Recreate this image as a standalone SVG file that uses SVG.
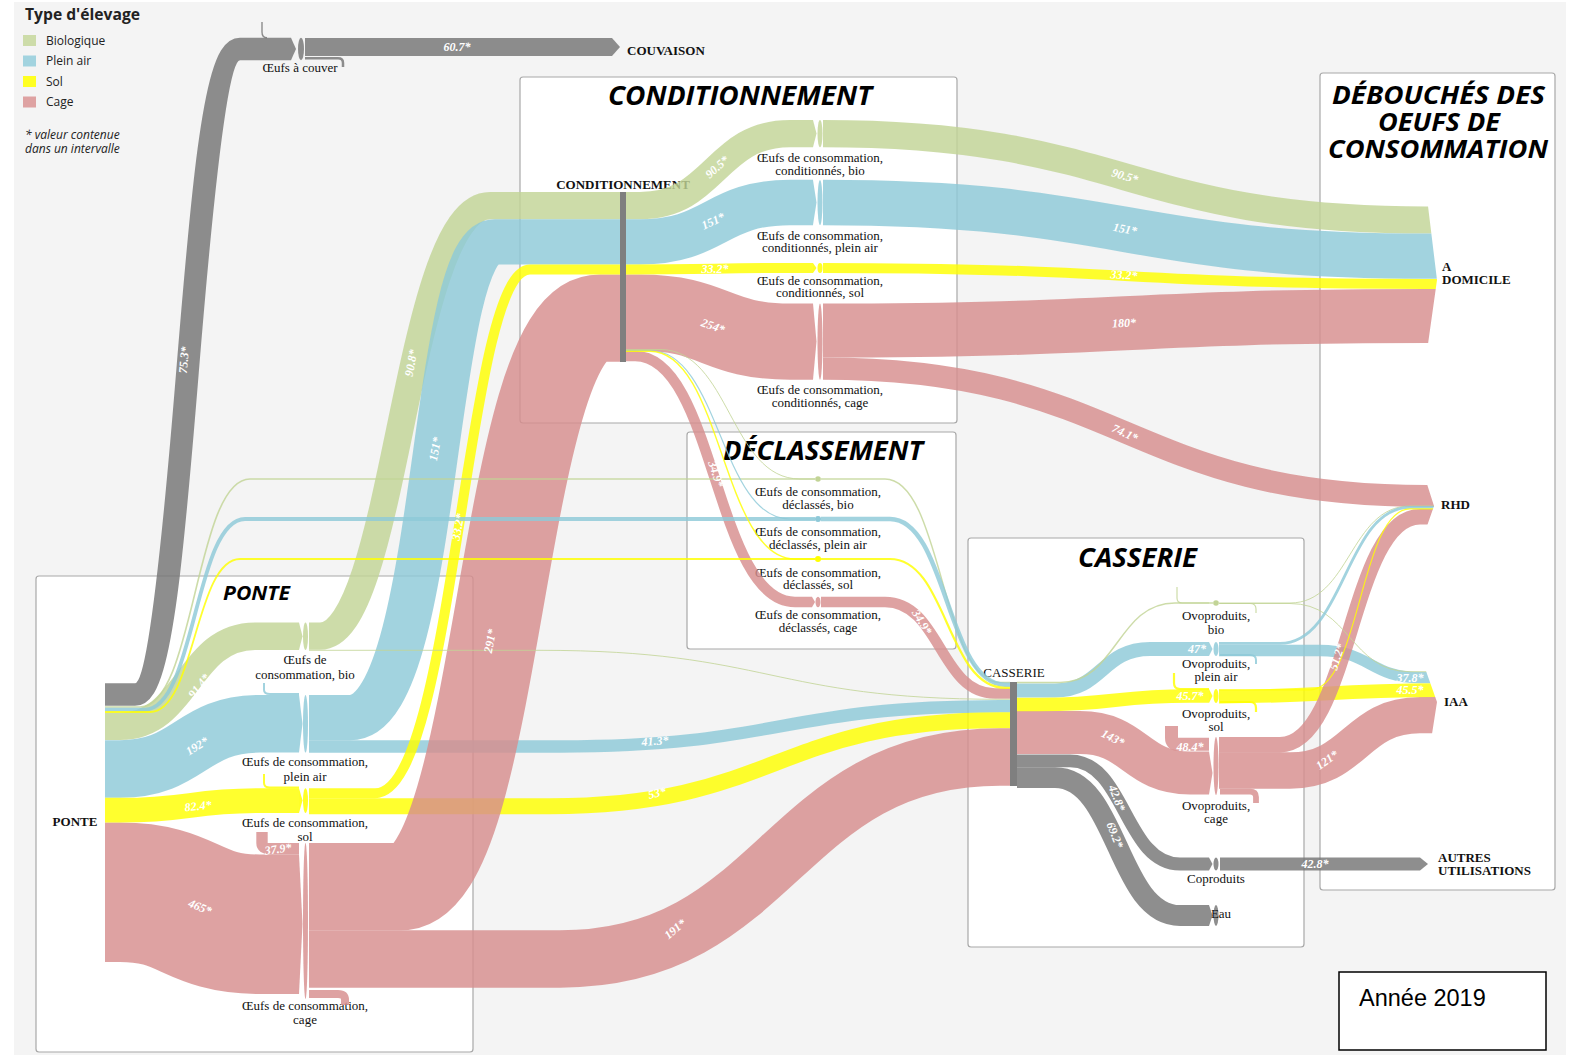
<svg xmlns="http://www.w3.org/2000/svg" width="1576" height="1055" viewBox="0 0 1576 1055">
<defs>
<style>
.panel{fill:#fff;stroke:#a8a8a8;stroke-width:1.2}
.title{font-family:'Open Sans','DejaVu Sans',sans-serif;font-weight:700;font-style:italic;fill:#000;text-anchor:middle}
.lbl{font-family:'Liberation Serif','DejaVu Serif',serif;font-size:13px;fill:#111;text-anchor:middle}
.nl{font-family:'Liberation Serif','DejaVu Serif',serif;font-size:13px;font-weight:700;fill:#111}
.val{font-family:'Liberation Serif','DejaVu Serif',serif;font-size:12px;font-weight:700;font-style:italic;fill:#fff;text-anchor:middle}
.leg{font-family:'Open Sans','DejaVu Sans',sans-serif;font-size:12px;fill:#222}
.f{fill:none;stroke-opacity:.82}
.G{stroke:#c2d496}.B{stroke:#8ec9d8}.Y{stroke:#ffff00}.P{stroke:#d78e8e}.K{stroke:#757575}
.gf{fill:#c2d496;fill-opacity:.82}.bf{fill:#8ec9d8;fill-opacity:.82}.yf{fill:#ffff00;fill-opacity:.85}.pf{fill:#d78e8e;fill-opacity:.82}.kf{fill:#757575;fill-opacity:.82}
</style>
<clipPath id="cDom"><polygon points="800,0 1428,0 1428,206 1437,280 1428,344 1428,420 800,420"/></clipPath>
<clipPath id="cRhd"><polygon points="800,340 1427,340 1427,484 1434,506 1427,526 1427,800 800,800"/></clipPath>
<clipPath id="cIaa"><polygon points="1200,590 1426,590 1426,671 1437,702 1432,734 1432,800 1200,800"/></clipPath>
</defs>

<rect width="1576" height="1055" fill="#fff"/>
<rect x="14" y="2" width="1552" height="1053" fill="#f4f4f4"/>

<g id="panels">
<rect class="panel" x="36" y="576" width="437" height="476" rx="3"/>
<rect class="panel" x="520" y="77" width="437" height="346" rx="3"/>
<rect class="panel" x="687" y="432" width="269" height="217" rx="3"/>
<rect class="panel" x="968" y="538" width="336" height="409" rx="3"/>
<rect class="panel" x="1320" y="73" width="235" height="817" rx="3"/>
<text class="title" x="740" y="105" font-size="26" textLength="264" lengthAdjust="spacingAndGlyphs">CONDITIONNEMENT</text>
<text class="title" x="823" y="460" font-size="26" textLength="200" lengthAdjust="spacingAndGlyphs">DÉCLASSEMENT</text>
<text class="title" x="1137.5" y="567" font-size="26" textLength="119" lengthAdjust="spacingAndGlyphs">CASSERIE</text>
<text class="title" x="256.5" y="600" font-size="20" textLength="67" lengthAdjust="spacingAndGlyphs">PONTE</text>
<text class="title" x="1438.5" y="104" font-size="25" textLength="213" lengthAdjust="spacingAndGlyphs">DÉBOUCHÉS DES</text>
<text class="title" x="1439" y="131" font-size="25" textLength="122" lengthAdjust="spacingAndGlyphs">OEUFS DE</text>
<text class="title" x="1438" y="158" font-size="25" textLength="220" lengthAdjust="spacingAndGlyphs">CONSOMMATION</text>
</g>

<g id="legend">
<text x="25" y="20" font-family="'Open Sans','DejaVu Sans',sans-serif" font-weight="700" font-size="15.5" fill="#222" textLength="115" lengthAdjust="spacingAndGlyphs">Type d'élevage</text>
<rect x="23" y="35" width="13" height="11" fill="#cddca9"/>
<rect x="23" y="55.5" width="13" height="11" fill="#a2d3df"/>
<rect x="23" y="76" width="13" height="11" fill="#ffff22"/>
<rect x="23" y="96.5" width="13" height="11" fill="#dea2a2"/>
<text class="leg" x="46" y="44.5">Biologique</text>
<text class="leg" x="46" y="65">Plein air</text>
<text class="leg" x="46" y="85.5">Sol</text>
<text class="leg" x="46" y="106">Cage</text>
<text class="leg" x="25" y="139" font-size="11.5" font-style="italic">* valeur contenue</text>
<text class="leg" x="25" y="153" font-size="11.5" font-style="italic">dans un intervalle</text>
</g>

<g id="node-ponte"><text class="nl" x="75" y="826" text-anchor="middle">PONTE</text></g>

<g id="node-oeufs-couver">
<polygon class="kf" points="291,37.7 296,49 291,60.3"/>
<ellipse class="kf" cx="301" cy="49" rx="3" ry="11.3"/>
<text class="lbl" x="300" y="72" font-size="12.5">Œufs à couver</text>
</g>
<g id="node-couvaison">
<polygon class="kf" points="612,37.9 620,47 612,56.1"/>
<text class="nl" x="627" y="55">COUVAISON</text>
</g>

<g id="node-ponte-bio">
<polygon class="gf" points="299,622.5 302.5,636.2 299,649.9"/>
<ellipse class="gf" cx="305.5" cy="636.2" rx="2.5" ry="13.7"/>
<text class="lbl" x="305" y="664">Œufs de</text>
<text class="lbl" x="305" y="679">consommation, bio</text>
</g>
<g id="node-ponte-pleinair">
<polygon class="bf" points="299,695 302.5,723.8 299,752.6"/>
<ellipse class="bf" cx="305.5" cy="723.8" rx="2.5" ry="28.8"/>
<text class="lbl" x="305" y="766">Œufs de consommation,</text>
<text class="lbl" x="305" y="781">plein air</text>
</g>
<g id="node-ponte-sol">
<polygon class="yf" points="299,788.3 302.5,800.6 299,812.9"/>
<ellipse class="yf" cx="305.5" cy="800.6" rx="2.5" ry="12.4"/>
<text class="lbl" x="305" y="827">Œufs de consommation,</text>
<text class="lbl" x="305" y="841">sol</text>
</g>
<g id="node-ponte-cage">
<polygon class="pf" points="299,854.4 302.5,924 299,993.9"/>
<ellipse class="pf" cx="305.5" cy="921" rx="2.5" ry="78"/>
<text class="lbl" x="305" y="1010">Œufs de consommation,</text>
<text class="lbl" x="305" y="1024">cage</text>
</g>

<g id="node-conditionnement">
<text class="nl" x="623" y="189" text-anchor="middle">CONDITIONNEMENT</text>
<rect x="620" y="192" width="6" height="170" fill="#7f7f7f"/>
</g>
<g id="node-cond-bio">
<polygon class="gf" points="813,120 816.5,133.6 813,147.2"/>
<ellipse class="gf" cx="820" cy="133.6" rx="2.5" ry="13.6"/>
<text class="lbl" x="820" y="161.5">Œufs de consommation,</text>
<text class="lbl" x="820" y="175">conditionnés, bio</text>
</g>
<g id="node-cond-pleinair">
<polygon class="bf" points="813,179.9 816.5,202.5 813,225.1"/>
<ellipse class="bf" cx="820" cy="202.5" rx="2.5" ry="22.6"/>
<text class="lbl" x="820" y="240">Œufs de consommation,</text>
<text class="lbl" x="820" y="252">conditionnés, plein air</text>
</g>
<g id="node-cond-sol">
<polygon class="yf" points="813,262.9 816.5,267.9 813,272.9"/>
<ellipse class="yf" cx="820" cy="267.9" rx="2.5" ry="5"/>
<text class="lbl" x="820" y="284.5">Œufs de consommation,</text>
<text class="lbl" x="820" y="296.5">conditionnés, sol</text>
</g>
<g id="node-cond-cage">
<polygon class="pf" points="813,303.5 816.5,341.6 813,379.7"/>
<ellipse class="pf" cx="820" cy="341.6" rx="2.5" ry="38.1"/>
<text class="lbl" x="820" y="394">Œufs de consommation,</text>
<text class="lbl" x="820" y="406.5">conditionnés, cage</text>
</g>

<g id="node-decl-bio">
<circle cx="818" cy="479" r="2.8" fill="#c2d496"/>
<text class="lbl" x="818" y="496">Œufs de consommation,</text>
<text class="lbl" x="818" y="509">déclassés, bio</text>
</g>
<g id="node-decl-pleinair">
<circle cx="818" cy="519" r="3" fill="#8ec9d8"/>
<text class="lbl" x="818" y="536">Œufs de consommation,</text>
<text class="lbl" x="818" y="548.5">déclassés, plein air</text>
</g>
<g id="node-decl-sol">
<circle cx="818" cy="559" r="3" fill="#ffff00"/>
<text class="lbl" x="818" y="576.5">Œufs de consommation,</text>
<text class="lbl" x="818" y="589">déclassés, sol</text>
</g>
<g id="node-decl-cage">
<polygon class="pf" points="812,596.8 815,602 812,607.2"/>
<ellipse class="pf" cx="818" cy="602" rx="2.5" ry="5.3"/>
<text class="lbl" x="818" y="618.5">Œufs de consommation,</text>
<text class="lbl" x="818" y="632">déclassés, cage</text>
</g>

<g id="node-casserie">
<text class="lbl" x="1014" y="677" font-size="13.5">CASSERIE</text>
<rect x="1010" y="682" width="7" height="104" fill="#7f7f7f"/>
</g>
<g id="node-ovo-bio">
<circle cx="1216" cy="603" r="2.8" fill="#c2d496"/>
<text class="lbl" x="1216" y="620">Ovoproduits,</text>
<text class="lbl" x="1216" y="634">bio</text>
</g>
<g id="node-ovo-pleinair">
<polygon class="bf" points="1209,642 1212.5,649 1209,656"/>
<ellipse class="bf" cx="1216" cy="649" rx="2.5" ry="7"/>
<text class="lbl" x="1216" y="668">Ovoproduits,</text>
<text class="lbl" x="1216" y="681">plein air</text>
</g>
<g id="node-ovo-sol">
<polygon class="yf" points="1209,689.1 1212.5,696 1209,702.9"/>
<ellipse class="yf" cx="1216" cy="696" rx="2.5" ry="6.9"/>
<text class="lbl" x="1216" y="718">Ovoproduits,</text>
<text class="lbl" x="1216" y="731">sol</text>
</g>
<g id="node-ovo-cage">
<polygon class="pf" points="1209,751.6 1212.5,773 1209,794.4"/>
<ellipse class="pf" cx="1216" cy="766" rx="2.5" ry="29"/>
<text class="lbl" x="1216" y="810">Ovoproduits,</text>
<text class="lbl" x="1216" y="823">cage</text>
</g>
<g id="node-coproduits">
<polygon class="kf" points="1209,857.6 1212.5,864 1209,870.4"/>
<ellipse class="kf" cx="1216" cy="864" rx="2.5" ry="6.4"/>
<text class="lbl" x="1216" y="883">Coproduits</text>
</g>
<g id="node-eau">
<polygon class="kf" points="1209,905.1 1212.5,915.5 1209,925.9"/>
<ellipse class="kf" cx="1216" cy="915.5" rx="2.5" ry="10.4"/>
<text class="lbl" x="1221" y="918" text-anchor="start">Eau</text>
</g>

<g id="node-domicile">
<text class="nl" x="1442" y="271" font-size="12.5">A</text>
<text class="nl" x="1442" y="284" font-size="12.5">DOMICILE</text>
</g>
<g id="node-rhd"><text class="nl" x="1441" y="509" font-size="12.5">RHD</text></g>
<g id="node-iaa"><text class="nl" x="1444" y="706" font-size="12.5">IAA</text></g>
<g id="node-autres">
<polygon class="kf" points="1420,857.6 1428,864 1420,870.4"/>
<text class="nl" x="1438" y="862" font-size="12">AUTRES</text>
<text class="nl" x="1438" y="874.5" font-size="12">UTILISATIONS</text>
</g>

<g id="connectors">
<path class="f K" stroke-width="22.6" d="M105,694.5 H135 C187.5,694.5 187.5,49 240,49 H291"/>
<path class="f K" stroke-width="18.2" d="M305,47 H612"/>
<path class="f K" stroke-width="12.8" d="M1017,760.8 H1070 C1125,760.8 1125,864 1180,864 H1209"/>
<path class="f K" stroke-width="20.8" d="M1017,777.6 H1055 C1117.5,777.6 1117.5,915.5 1180,915.5 H1209"/>
<path class="f K" stroke-width="12.8" d="M1220,864 H1420"/>
<path class="f B" stroke-width="12.4" d="M309,746.5 H560 C780,746.5 780,706.2 1000,706.2 H1010"/>
<path class="f Y" stroke-width="15.9" d="M309,806.2 H550 C775,806.2 775,720.3 1000,720.3 H1010"/>
<path class="f P" stroke-width="139.5" d="M105,892.3 H120 C190,892.3 190,924.2 260,924.2 H299"/>
<path class="f P" stroke-width="87.3" d="M309,886.7 H400 C500,886.7 500,318.2 600,318.2 H620"/>
<path class="f P" stroke-width="57.3" d="M309,959 H560 C780,959 780,757 1000,757 H1010"/>
<path class="f P" stroke-width="76.2" d="M626,312.6 H640 C715,312.6 715,341.6 790,341.6 H813"/>
<path class="f P" stroke-width="10.5" d="M626,356 H635 C715,356 715,602 795,602 H812"/>
<path class="f P" stroke-width="54" clip-path="url(#cDom)" d="M823,330.6 C1125,330.6 1125,315.9 1427,315.9 H1445"/>
<path class="f P" stroke-width="22.2" clip-path="url(#cRhd)" d="M823,368.6 C1125,368.6 1125,496 1427,496 H1445"/>
<path class="f P" stroke-width="10.5" d="M821,602 H885 C940,602 940,693.5 995,693.5 H1010"/>
<path class="f P" stroke-width="42.9" d="M1017,732.5 H1080 C1135,732.5 1135,773 1190,773 H1209"/>
<path class="f P" stroke-width="36.3" clip-path="url(#cIaa)" d="M1219,770.5 H1290 C1355,770.5 1355,715.2 1420,715.2 H1445"/>
<path class="f G" stroke-width="27.4" d="M105,726.3 H120 C187.5,726.3 187.5,636.2 255,636.2 H299"/>
<path class="f G" stroke-width="27.2" d="M309,636.1 H320 C396,636.1 405,205.6 490,205.6 H620"/>
<path class="f G" stroke-width="27.2" d="M626,205.6 H640 C715,205.6 715,133.6 790,133.6 H813"/>
<path class="f G" stroke-width="27.2" clip-path="url(#cDom)" d="M823,133.6 C1125,133.6 1125,220 1427,220 H1445"/>
<path class="f B" stroke-width="57.6" d="M105,769 H120 C190,769 190,723.8 260,723.8 H299"/>
<path class="f B" stroke-width="45.3" d="M309,717.6 H350 C440,717.6 430,241.9 495,241.9 H620"/>
<path class="f B" stroke-width="45.3" d="M626,241.9 H640 C715,241.9 715,202.5 790,202.5 H813"/>
<path class="f B" stroke-width="45.3" clip-path="url(#cDom)" d="M823,202.5 C1125,202.5 1125,256.2 1427,256.2 H1445"/>
<path class="f B" stroke-width="14.1" d="M1017,690.5 H1055 C1102,690.5 1102,649 1150,649 H1209"/>
<path class="f B" stroke-width="11.3" clip-path="url(#cIaa)" d="M1219,650.5 H1320 C1370,650.5 1370,677.7 1420,677.7 H1445"/>
<path class="f Y" stroke-width="24.7" d="M105,810.2 H120 C190,810.2 190,800.6 260,800.6 H299"/>
<path class="f Y" stroke-width="10" d="M309,793.3 H375 C455,793.3 465,269.5 530,269.5 H620"/>
<path class="f Y" stroke-width="10" d="M626,269.5 C715,269.5 715,267.9 813,267.9"/>
<path class="f Y" stroke-width="10" clip-path="url(#cDom)" d="M823,267.9 C1125,267.9 1125,283.9 1427,283.9 H1445"/>
<path class="f Y" stroke-width="13.7" d="M1017,704.5 H1040 C1115,704.5 1115,696 1190,696 H1209"/>
<path class="f Y" stroke-width="13.7" clip-path="url(#cIaa)" d="M1219,696.6 C1320,696.6 1330,690.2 1445,690.2"/>
<path class="f P" stroke-width="15.4" clip-path="url(#cRhd)" d="M1219,744.7 H1280 C1350,744.7 1350,516.7 1420,516.7 H1445"/>
<path class="f G" stroke-width="1.6" d="M105,707 H140 C195,707 195,479 250,479 H815"/>
<path class="f B" stroke-width="3.8" d="M105,709.6 H145 C195,709.6 195,519 245,519 H815"/>
<path class="f Y" stroke-width="1.8" d="M105,712 H150 C195,712 195,559 240,559 H815"/>
<path class="f G" stroke-width="1" d="M626,349.5 H660 C730,349.5 730,479 800,479 H815"/>
<path class="f B" stroke-width="1.2" d="M626,350.5 H650 C720,350.5 720,519 790,519 H815"/>
<path class="f Y" stroke-width="1.4" d="M626,351.2 H650 C722,351.2 722,559 795,559 H815"/>
<path class="f G" stroke-width="1.5" d="M821,479 H885 C942,479 942,682.5 1000,682.5 H1010"/>
<path class="f B" stroke-width="4.5" d="M821,519 H890 C947,519 947,684.8 1005,684.8 H1010"/>
<path class="f Y" stroke-width="2.2" d="M821,559 H890 C947,559 947,687.8 1005,687.8 H1010"/>
<path class="f G" stroke-width="1" d="M309,650.3 H540 C770,650.3 770,699.3 1000,699.3 H1010"/>
<path class="f G" stroke-width="1.5" d="M1017,682.5 H1060 C1117,682.5 1117,603 1175,603 H1213"/>
<path class="f G" stroke-width="1" clip-path="url(#cRhd)" d="M1219,603 H1290 C1350,603 1350,506 1410,506 H1440"/>
<path class="f G" stroke-width="1" clip-path="url(#cIaa)" d="M1219,603.5 H1290 C1350,603.5 1350,671.7 1410,671.7 H1440"/>
<path class="f B" stroke-width="2.8" clip-path="url(#cRhd)" d="M1219,643.4 H1280 C1345,643.4 1345,507.3 1410,507.3 H1440"/>
<path class="f Y" stroke-width="1.2" clip-path="url(#cRhd)" d="M1219,689.8 H1310 C1360,689.8 1360,508.8 1410,508.8 H1440"/>
<path class="f K" stroke-width="1.4" d="M262,22 V32 Q262,37.8 267,37.8"/>
<path class="f K" stroke-width="2.5" d="M305,58.3 H338 Q343,58.3 343,63 V67"/>
<path class="f B" stroke-width="2" d="M264,683 V690 Q264,694 270,694 H299"/>
<path class="f Y" stroke-width="2" d="M264,774 V783 Q264,787.5 270,787.5 H299"/>
<path class="f P" stroke-width="11.4" d="M262,832 V843 Q262,848.7 270,848.7 H299"/>
<path class="f P" stroke-width="8" d="M309,994 H338 Q345,994 345,1000 V1005"/>
<path class="f G" stroke-width="1.2" d="M1177,587 V598 Q1177,603 1182,603 H1209"/>
<path class="f G" stroke-width="1.2" d="M1220,603.5 H1250 Q1256,603.5 1256,609 V613"/>
<path class="f B" stroke-width="2" d="M1220,655 H1250 Q1256,655 1256,660 V664"/>
<path class="f Y" stroke-width="2.2" d="M1174,673 V683 Q1174,689 1180,689 H1209"/>
<path class="f Y" stroke-width="2.2" d="M1220,702 H1250 Q1256,702 1256,708 V712"/>
<path class="f P" stroke-width="13" d="M1171.5,726 V738 Q1171.5,744.3 1178,744.3 H1209"/>
<path class="f P" stroke-width="5.8" d="M1220,791.6 H1250 Q1256,791.6 1256,797 V803"/>
</g>

<g id="flow-labels">
<text class="val" transform="translate(184,360) rotate(-85)" dy="4">75.3*</text>
<text class="val" transform="translate(457,47)" dy="4">60.7*</text>
<text class="val" transform="translate(199,686) rotate(-52)" dy="4">91.4*</text>
<text class="val" transform="translate(197,746) rotate(-32)" dy="4">192*</text>
<text class="val" transform="translate(198,806) rotate(-6)" dy="4">82.4*</text>
<text class="val" transform="translate(200,907) rotate(22)" dy="4">465*</text>
<text class="val" transform="translate(278,849) rotate(-8)" dy="4">37.9*</text>
<text class="val" transform="translate(411,363) rotate(-80)" dy="4">90.8*</text>
<text class="val" transform="translate(435,449) rotate(-80)" dy="4">151*</text>
<text class="val" transform="translate(458,527) rotate(-80)" dy="4">33.2*</text>
<text class="val" transform="translate(490,641) rotate(-80)" dy="4">291*</text>
<text class="val" transform="translate(655,741) rotate(-4)" dy="4">41.3*</text>
<text class="val" transform="translate(657,793) rotate(-14)" dy="4">53*</text>
<text class="val" transform="translate(675,929) rotate(-40)" dy="4">191*</text>
<text class="val" transform="translate(717,167) rotate(-42)" dy="4">90.5*</text>
<text class="val" transform="translate(713,221) rotate(-25)" dy="4">151*</text>
<text class="val" transform="translate(715,269)" dy="4">33.2*</text>
<text class="val" transform="translate(713,326) rotate(20)" dy="4">254*</text>
<text class="val" transform="translate(716,474) rotate(72)" dy="4">34.9*</text>
<text class="val" transform="translate(1125,176) rotate(16)" dy="4">90.5*</text>
<text class="val" transform="translate(1125,229) rotate(10)" dy="4">151*</text>
<text class="val" transform="translate(1124,275) rotate(3)" dy="4">33.2*</text>
<text class="val" transform="translate(1124,323) rotate(-3)" dy="4">180*</text>
<text class="val" transform="translate(1125,433) rotate(25)" dy="4">74.1*</text>
<text class="val" transform="translate(922,622) rotate(58)" dy="4">34.9*</text>
<text class="val" transform="translate(1197,649)" dy="4">47*</text>
<text class="val" transform="translate(1190,696)" dy="4">45.7*</text>
<text class="val" transform="translate(1113,738) rotate(27)" dy="4">143*</text>
<text class="val" transform="translate(1190,747)" dy="4">48.4*</text>
<text class="val" transform="translate(1117,798) rotate(68)" dy="4">42.8*</text>
<text class="val" transform="translate(1115,835) rotate(68)" dy="4">69.2*</text>
<text class="val" transform="translate(1337,657) rotate(-72)" dy="4">51.2*</text>
<text class="val" transform="translate(1327,760) rotate(-35)" dy="4">121*</text>
<text class="val" transform="translate(1410,678)" dy="4">37.8*</text>
<text class="val" transform="translate(1410,690)" dy="4">45.5*</text>
<text class="val" transform="translate(1315,864)" dy="4">42.8*</text>
</g>

<g id="year-box">
<rect x="1339" y="972" width="207" height="78" fill="#fff" stroke="#000" stroke-width="1.5"/>
<text x="1359" y="1006" font-family="'Liberation Sans',Arial,sans-serif" font-size="23.5" fill="#000">Année 2019</text>
</g>
</svg>
